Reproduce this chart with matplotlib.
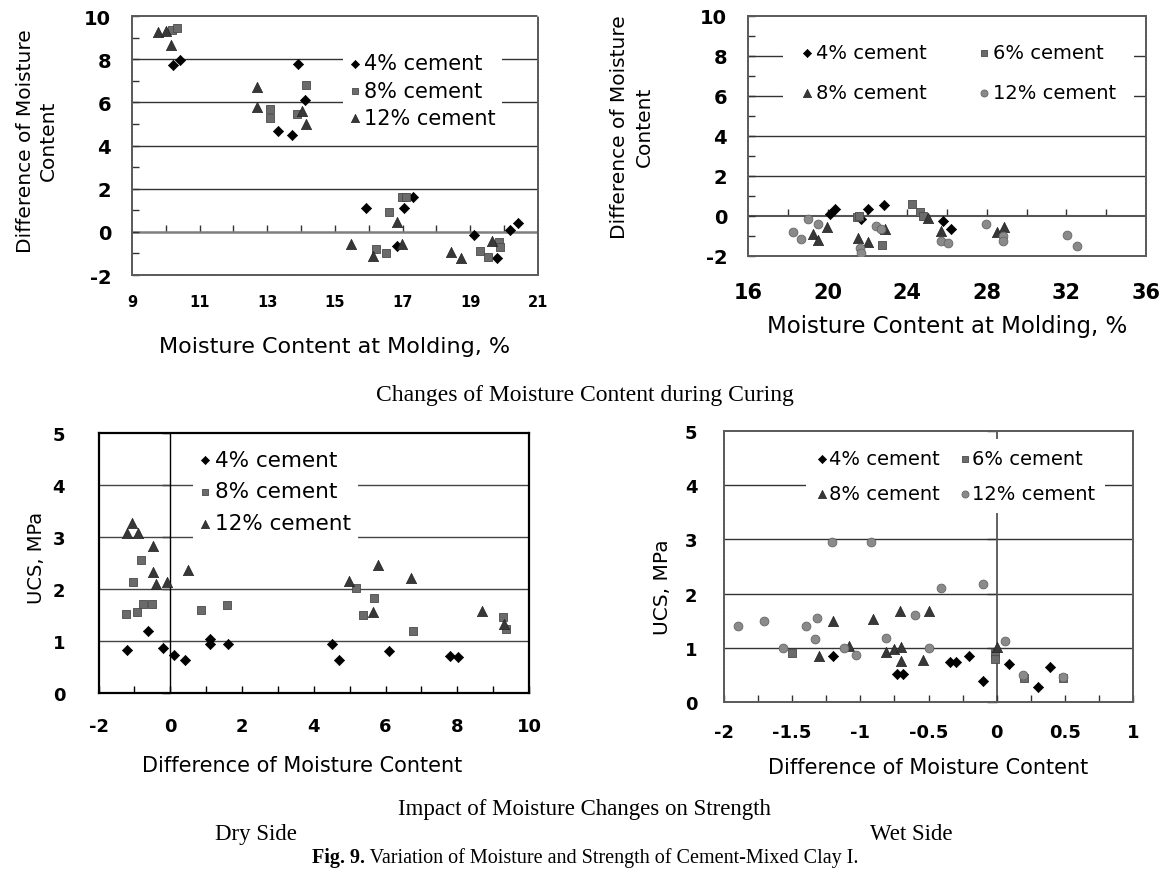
import matplotlib
matplotlib.use("Agg")
import matplotlib.pyplot as plt
from matplotlib.ticker import MultipleLocator, NullFormatter

# ---------------- data ----------------
# Panel 1: dry side, difference of moisture content vs moulding moisture
p1_x_c4 = [10.2, 10.42, 13.33, 13.74, 13.92, 14.11, 15.92, 17.05, 17.3, 16.84, 19.12, 19.78, 20.17, 20.42]
p1_y_c4 = [7.75, 7.95, 4.67, 4.48, 7.77, 6.13, 1.09, 1.09, 1.63, -0.64, -0.14, -1.22, 0.09, 0.41]
p1_x_c8 = [10.17, 10.32, 13.08, 13.08, 13.87, 14.14, 16.61, 16.97, 17.1, 16.21, 16.5, 19.29, 19.53, 19.86, 19.88]
p1_y_c8 = [9.33, 9.44, 5.70, 5.27, 5.47, 6.81, 0.94, 1.63, 1.63, -0.79, -0.96, -0.87, -1.18, -0.48, -0.71]
p1_x_c12 = [9.77, 10.0, 10.15, 12.70, 12.70, 14.01, 14.14, 16.84, 15.46, 16.11, 16.97, 18.43, 18.73, 19.63]
p1_y_c12 = [9.26, 9.3, 8.64, 6.71, 5.78, 5.62, 5.0, 0.47, -0.56, -1.10, -0.56, -0.92, -1.22, -0.41]

# Panel 2: wet side
p2_x_c4 = [20.12, 20.37, 21.68, 22.05, 22.83, 25.78, 26.2]
p2_y_c4 = [0.12, 0.37, -0.17, 0.33, 0.53, -0.27, -0.67]
p2_x_c6 = [21.46, 21.6, 22.72, 24.23, 24.64, 24.81]
p2_y_c6 = [-0.05, 0.0, -1.47, 0.58, 0.2, 0.0]
p2_x_c8 = [19.28, 19.53, 19.95, 21.54, 22.05, 22.88, 25.06, 25.7, 28.53, 28.86]
p2_y_c8 = [-0.9, -1.18, -0.57, -1.10, -1.30, -0.67, -0.09, -0.77, -0.80, -0.55]
p2_x_c12 = [18.28, 18.66, 19.03, 19.53, 21.62, 21.66, 22.43, 22.66, 25.7, 26.03, 27.94, 28.83, 28.83, 32.02, 32.52]
p2_y_c12 = [-0.82, -1.15, -0.15, -0.40, -1.6, -1.85, -0.52, -0.65, -1.27, -1.35, -0.42, -1.0, -1.25, -0.97, -1.52]

# Panel 3: dry side, UCS vs difference of moisture content
p3_x_c4 = [-1.20, -0.61, -0.21, 0.10, 0.41, 1.11, 1.11, 1.62, 4.50, 4.71, 6.10, 7.79, 8.02]
p3_y_c4 = [0.83, 1.19, 0.86, 0.73, 0.64, 1.03, 0.94, 0.94, 0.94, 0.64, 0.80, 0.72, 0.69]
p3_x_c8 = [-1.23, -0.94, -0.75, -0.52, -1.03, -0.82, 0.87, 1.57, 5.19, 5.67, 5.36, 6.77, 9.28, 9.37]
p3_y_c8 = [1.52, 1.56, 1.71, 1.71, 2.14, 2.56, 1.60, 1.70, 2.01, 1.82, 1.50, 1.20, 1.47, 1.24]
p3_x_c12 = [-1.08, -1.21, -0.89, -0.49, -0.49, -0.40, -0.10, 0.50, 4.99, 5.64, 5.78, 6.70, 8.70, 9.30]
p3_y_c12 = [3.26, 3.08, 3.08, 2.83, 2.32, 2.10, 2.13, 2.37, 2.16, 1.56, 2.46, 2.22, 1.58, 1.33]

# Panel 4: wet side
p4_x_c4 = [-1.20, -0.73, -0.69, -0.34, -0.30, -0.20, -0.10, 0.09, 0.30, 0.39]
p4_y_c4 = [0.85, 0.51, 0.51, 0.73, 0.73, 0.85, 0.39, 0.71, 0.28, 0.65]
p4_x_c6 = [-1.50, -0.01, -0.01, 0.20, 0.49]
p4_y_c6 = [0.91, 0.91, 0.80, 0.45, 0.44]
p4_x_c8 = [-1.30, -1.20, -1.08, -0.91, -0.81, -0.75, -0.70, -0.71, -0.70, -0.54, -0.50, 0.0]
p4_y_c8 = [0.84, 1.50, 1.04, 1.54, 0.93, 0.98, 1.02, 1.68, 0.76, 0.78, 1.68, 1.02]
p4_x_c12 = [-1.90, -1.71, -1.565, -1.40, -1.32, -1.33, -1.21, -1.12, -1.03, -0.92, -0.81, -0.60, -0.50, -0.41, -0.10, 0.06, 0.19, 0.49]
p4_y_c12 = [1.41, 1.50, 0.99, 1.41, 1.55, 1.16, 2.95, 0.99, 0.86, 2.95, 1.19, 1.61, 0.99, 2.11, 2.18, 1.12, 0.49, 0.46]

# tick labels
p1_xticks = [9, 11, 13, 15, 17, 19, 21]
p1_yticks = [-2, 0, 2, 4, 6, 8, 10]
p2_xticks = [16, 20, 24, 28, 32, 36]
p2_yticks = [-2, 0, 2, 4, 6, 8, 10]
p3_xticks = [-2, 0, 2, 4, 6, 8, 10]
p3_yticks = [0, 1, 2, 3, 4, 5]
p4_xticks = [-2, -1.5, -1, -0.5, 0, 0.5, 1]
p4_xticklabels = ["-2", "-1.5", "-1", "-0.5", "0", "0.5", "1"]
p4_yticks = [0, 1, 2, 3, 4, 5]

lab_c4, lab_c6, lab_c8, lab_c12 = "4% cement", "6% cement", "8% cement", "12% cement"

# ---------------- figure ----------------
W, H = 1171, 878
plt.rcParams['font.family'] = ['DejaVu Sans']
fig = plt.figure(figsize=(W / 100, H / 100), dpi=100)

def rect(box):
    l, t, r, b = box
    return [l / W, 1 - b / H, (r - l) / W, (b - t) / H]

def frac(box, px, py):
    l, t, r, b = box
    return ((px - l) / (r - l), (b - py) / (b - t))

STY = {
    'D': dict(marker='D', s=27, c='black', edgecolors='black', linewidths=0.5),
    's': dict(marker='s', s=38, c='#6b6b6b', edgecolors='#4a4a4a', linewidths=0.6),
    '^': dict(marker='^', s=55, c='#383838', edgecolors='#222222', linewidths=0.5),
    'o': dict(marker='o', s=40, c='#8a8a8a', edgecolors='#656565', linewidths=0.6),
}

def sc(ax, x, y, key, label):
    return ax.scatter(x, y, zorder=3, label=label, **STY[key])

def dotted_frame(ax):
    for sp in ax.spines.values():
        sp.set_color('#5a5a5a')
        sp.set_linewidth(1.4)
        sp.set_linestyle((0, (1, 0.8)))

def solid_frame(ax):
    for sp in ax.spines.values():
        sp.set_color('black')
        sp.set_linewidth(1.6)

def legend(ax, box, handles, px, py, fs, ncol=1, **kw):
    ax.legend(handles=handles, loc='upper left', bbox_to_anchor=frac(box, px, py),
              borderaxespad=0, ncol=ncol, fontsize=fs, frameon=True, fancybox=False,
              facecolor='white', edgecolor='none', framealpha=1, markerscale=0.8,
              scatterpoints=1, **kw)

# ---------- Panel 1 ----------
B1 = (132, 17, 538, 276)
ax1 = fig.add_axes(rect(B1))
ax1.set_xlim(9, 21)
ax1.set_ylim(-2, 10)
dotted_frame(ax1)
for v in p1_yticks[2:-1]:
    ax1.axhline(v, color='#333333', lw=1.0, zorder=1)
ax1.axhline(0, color='#7f7f7f', lw=1.8, zorder=1)
ax1.set_xticks(p1_xticks)
ax1.set_xticklabels([str(v) for v in p1_xticks], fontsize=10.5, fontweight='bold')
ax1.tick_params(axis='x', length=0, pad=14)
ax1.set_yticks(p1_yticks)
ax1.set_yticklabels([str(v) for v in p1_yticks], fontsize=14, fontweight='bold')
ax1.yaxis.set_minor_locator(MultipleLocator(1))
ax1.tick_params(axis='y', which='both', direction='in', length=5, width=1, pad=15, color='#333333')
s1 = ax1.secondary_xaxis((0 - (-2)) / 12)
s1.set_xticks(list(range(10, 21)))
s1.xaxis.set_major_formatter(NullFormatter())
s1.tick_params(direction='in', length=5, width=1, color='#333333')
for sp in s1.spines.values():
    sp.set_visible(False)
h = [sc(ax1, p1_x_c4, p1_y_c4, 'D', lab_c4),
     sc(ax1, p1_x_c8, p1_y_c8, 's', lab_c8),
     sc(ax1, p1_x_c12, p1_y_c12, '^', lab_c12)]
legend(ax1, B1, h, 343, 48, 15, handlelength=0.55, handletextpad=0.15,
       borderpad=0.3, labelspacing=0.35)
ax1.set_xlabel("Moisture Content at Molding, %", fontsize=16, va='center')
ax1.xaxis.set_label_coords(*frac(B1, 335, 347))
ax1.set_ylabel("Difference of Moisture\nContent", fontsize=14.5, va='center', ha='center',
               linespacing=1.25)
ax1.yaxis.set_label_coords(*frac(B1, 37, 141))

# ---------- Panel 2 ----------
B2 = (748, 17, 1146, 257)
ax2 = fig.add_axes(rect(B2))
ax2.set_xlim(16, 36)
ax2.set_ylim(-2, 10)
dotted_frame(ax2)
for v in p2_yticks[2:-1]:
    ax2.axhline(v, color='#333333', lw=1.0, zorder=1)
ax2.axhline(0, color='#555555', lw=1.5, zorder=1)
ax2.set_xticks(p2_xticks)
ax2.set_xticklabels([str(v) for v in p2_xticks], fontsize=15, fontweight='bold')
ax2.tick_params(axis='x', length=0, pad=19)
ax2.set_yticks(p2_yticks)
ax2.set_yticklabels([str(v) for v in p2_yticks], fontsize=14, fontweight='bold')
ax2.yaxis.set_minor_locator(MultipleLocator(1))
ax2.tick_params(axis='y', which='both', direction='in', length=5, width=1, pad=15, color='#333333')
s2 = ax2.secondary_xaxis((0 - (-2)) / 12)
s2.set_xticks(list(range(18, 36, 2)))
s2.xaxis.set_major_formatter(NullFormatter())
s2.tick_params(direction='in', length=5, width=1, color='#333333')
for sp in s2.spines.values():
    sp.set_visible(False)
h4 = sc(ax2, p2_x_c4, p2_y_c4, 'D', lab_c4)
h6 = sc(ax2, p2_x_c6, p2_y_c6, 's', lab_c6)
h8 = sc(ax2, p2_x_c8, p2_y_c8, '^', lab_c8)
h12 = sc(ax2, p2_x_c12, p2_y_c12, 'o', lab_c12)
legend(ax2, B2, [h4, h8, h6, h12], 783, 27, 14, ncol=2, handlelength=0.7,
       handletextpad=0.1, borderpad=0.9, labelspacing=1.05, columnspacing=2.6)
ax2.set_xlabel("Moisture Content at Molding, %", fontsize=16.5, va='center')
ax2.xaxis.set_label_coords(*frac(B2, 947, 327))
ax2.set_ylabel("Difference of Moisture\nContent", fontsize=14.5, va='center', ha='center',
               linespacing=1.35)
ax2.yaxis.set_label_coords(*frac(B2, 632, 127))

# ---------- Panel 3 ----------
B3 = (98.5, 434, 529, 694)
ax3 = fig.add_axes(rect(B3))
ax3.set_xlim(-2, 10)
ax3.set_ylim(0, 5)
solid_frame(ax3)
for v in p3_yticks[1:-1]:
    ax3.axhline(v, color='#444444', lw=1.0, zorder=1)
ax3.axvline(0, color='black', lw=1.0, zorder=1)
ax3.set_xticks(p3_xticks)
ax3.set_xticklabels([str(v) for v in p3_xticks], fontsize=13, fontweight='bold')
ax3.xaxis.set_minor_locator(MultipleLocator(1))
ax3.tick_params(axis='x', which='both', direction='in', length=5, width=1, pad=17)
ax3.set_yticks(p3_yticks)
ax3.set_yticklabels([str(v) for v in p3_yticks], fontsize=13, fontweight='bold')
ax3.tick_params(axis='y', length=0, pad=24)
s3 = ax3.secondary_yaxis((0 - (-2)) / 12)
s3.set_yticks(p3_yticks)
s3.yaxis.set_major_formatter(NullFormatter())
s3.tick_params(direction='out', length=6, width=1)
for sp in s3.spines.values():
    sp.set_visible(False)
h = [sc(ax3, p3_x_c4, p3_y_c4, 'D', lab_c4),
     sc(ax3, p3_x_c8, p3_y_c8, 's', lab_c8),
     sc(ax3, p3_x_c12, p3_y_c12, '^', lab_c12)]
legend(ax3, B3, h, 193, 443, 15.5, handlelength=0.45, handletextpad=0.2,
       borderpad=0.35, labelspacing=0.55)
ax3.set_xlabel("Difference of Moisture Content", fontsize=15, va='center')
ax3.xaxis.set_label_coords(*frac(B3, 302, 766))
ax3.set_ylabel("UCS, MPa", fontsize=14, va='center', ha='center')
ax3.yaxis.set_label_coords(*frac(B3, 36, 558))

# ---------- Panel 4 ----------
B4 = (724, 432, 1133, 703)
ax4 = fig.add_axes(rect(B4))
ax4.set_xlim(-2, 1)
ax4.set_ylim(0, 5)
dotted_frame(ax4)
for v in p4_yticks[1:-1]:
    ax4.axhline(v, color='#333333', lw=1.0, zorder=1)
ax4.axvline(0, color='#555555', lw=1.3, zorder=1)
ax4.set_xticks(p4_xticks)
ax4.set_xticklabels(p4_xticklabels, fontsize=13, fontweight='bold')
ax4.xaxis.set_minor_locator(MultipleLocator(0.25))
ax4.tick_params(axis='x', which='both', direction='in', length=5, width=1, pad=15, color='#333333')
ax4.set_yticks(p4_yticks)
ax4.set_yticklabels([str(v) for v in p4_yticks], fontsize=13, fontweight='bold')
ax4.tick_params(axis='y', length=0, pad=19)
s4 = ax4.secondary_yaxis((0 - (-2)) / 3)
s4.set_yticks(p4_yticks)
s4.yaxis.set_major_formatter(NullFormatter())
s4.tick_params(direction='in', length=7, width=1, color='#333333')
for sp in s4.spines.values():
    sp.set_visible(False)
h4 = sc(ax4, p4_x_c4, p4_y_c4, 'D', lab_c4)
h6 = sc(ax4, p4_x_c6, p4_y_c6, 's', lab_c6)
h8 = sc(ax4, p4_x_c8, p4_y_c8, '^', lab_c8)
h12 = sc(ax4, p4_x_c12, p4_y_c12, 'o', lab_c12)
legend(ax4, B4, [h4, h8, h6, h12], 806, 440, 14, ncol=2, handlelength=0.65,
       handletextpad=0.05, borderpad=0.5, labelspacing=0.85, columnspacing=0.95)
ax4.set_xlabel("Difference of Moisture Content", fontsize=15, va='center')
ax4.xaxis.set_label_coords(*frac(B4, 928, 768))
ax4.set_ylabel("UCS, MPa", fontsize=14.5, va='center', ha='center')
ax4.yaxis.set_label_coords(*frac(B4, 662, 587))

# ---------- captions ----------
SERIF = ['Liberation Serif', 'DejaVu Serif']
fig.text(585 / W, 1 - 395 / H, "Changes of Moisture Content during Curing",
         family=SERIF, fontsize=17, ha='center', va='center')
fig.text(585 / W, 1 - 810 / H, "Impact of Moisture Changes on Strength",
         family=SERIF, fontsize=16.5, ha='center', va='center')
fig.text(256 / W, 1 - 835 / H, "Dry Side", family=SERIF, fontsize=16.5, ha='center', va='center')
fig.text(911 / W, 1 - 835 / H, "Wet Side", family=SERIF, fontsize=16.5, ha='center', va='center')

t_bold = fig.text(0, 1 - 858 / H, "Fig. 9.", family=SERIF, fontsize=14.5, fontweight='bold',
                  ha='left', va='center')
t_rest = fig.text(0, 1 - 858 / H, " Variation of Moisture and Strength of Cement-Mixed Clay I.",
                  family=SERIF, fontsize=14.5, ha='left', va='center')
fig.canvas.draw()
r = fig.canvas.get_renderer()
wb = t_bold.get_window_extent(r).width
wr = t_rest.get_window_extent(r).width
x0 = 585 - (wb + wr) / 2
t_bold.set_x(x0 / W)
t_rest.set_x((x0 + wb) / W)

fig.savefig("out.png", dpi=100)
